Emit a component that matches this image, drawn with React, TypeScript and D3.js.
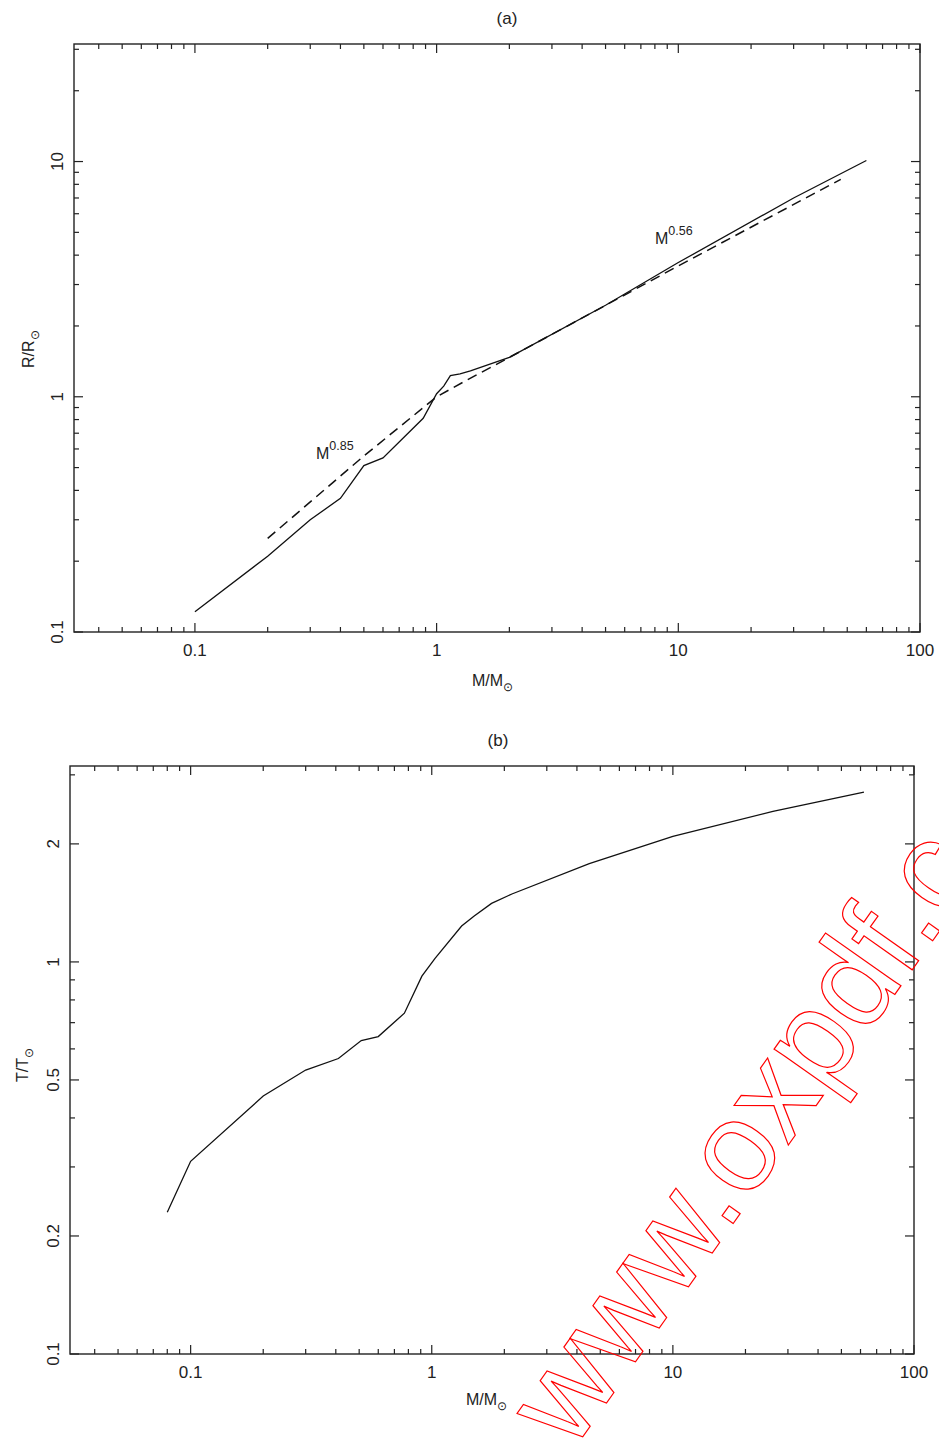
import React from 'react';
import { scaleLog, line, curveLinear } from 'd3';

const W = 939;
const H = 1441;

// panel (a): radius vs mass, model curve
const massR = [0.1, 0.2, 0.3, 0.4, 0.5, 0.6, 0.88, 1.0, 1.07, 1.14, 1.25, 1.38, 2, 5, 10, 30, 60];
const radiusR = [0.122, 0.21, 0.30, 0.37, 0.51, 0.55, 0.81, 1.03, 1.11, 1.23, 1.25, 1.29, 1.47, 2.45, 3.72, 7.0, 10.1];

// panel (a): power-law fits (dashed)
const fitM = [0.2, 0.5, 1.0, 1.3, 2, 10, 47];
const fitR = [0.25, 0.56, 1.0, 1.16, 1.47, 3.6, 8.4];

// panel (b): temperature vs mass
const massT = [0.08, 0.1, 0.2, 0.3, 0.41, 0.51, 0.6, 0.77, 0.91, 1.03, 1.33, 1.5, 1.77, 2.15, 4.5, 10, 26, 62];
const tempT = [0.23, 0.31, 0.455, 0.53, 0.567, 0.63, 0.645, 0.74, 0.92, 1.02, 1.235, 1.31, 1.41, 1.49, 1.78, 2.09, 2.42, 2.71];

const xLabels = [0.1, 1, 10, 100];
const yLabelsA = [0.1, 1, 10];
const yLabelsB = [0.1, 0.2, 0.5, 1, 2];

const font = 'Liberation Sans, Arial, Helvetica, sans-serif';
const SUN = '\u2299';

type Panel = {
  left: number; right: number; top: number; bottom: number;
  xDomain: [number, number]; yDomain: [number, number];
};

const pA: Panel = { left: 74, right: 920, top: 44, bottom: 632, xDomain: [0.0316, 100], yDomain: [0.1, 31.6] };
const pB: Panel = { left: 70, right: 914, top: 766, bottom: 1354, xDomain: [0.0316, 100], yDomain: [0.1, 3.16] };

const isMajor = (v: number, labels: number[]) => labels.some(l => Math.abs(l - v) / l < 1e-6);
const fmt = (v: number) => (v >= 1 ? String(Math.round(v)) : String(+v.toFixed(2)));

function Frame({ p, x, y, yLabels }: { p: Panel; x: any; y: any; yLabels: number[] }) {
  const xt = x.ticks().filter((t: number) => t >= p.xDomain[0] && t <= p.xDomain[1]);
  const yt = y.ticks().filter((t: number) => t >= p.yDomain[0] && t <= p.yDomain[1]);
  const major = 9;
  const minor = 5;
  return (
    <g stroke="#222" fill="none">
      <rect x={p.left} y={p.top} width={p.right - p.left} height={p.bottom - p.top} strokeWidth={1.4} />
      {xt.map((t: number, i: number) => {
        const len = isMajor(t, xLabels) ? major : minor;
        const xx = x(t);
        return (
          <g key={'x' + i}>
            <line x1={xx} x2={xx} y1={p.bottom} y2={p.bottom - len} strokeWidth={1.2} />
            <line x1={xx} x2={xx} y1={p.top} y2={p.top + len} strokeWidth={1.2} />
          </g>
        );
      })}
      {yt.map((t: number, i: number) => {
        const len = isMajor(t, yLabels) ? major : minor;
        const yy = y(t);
        return (
          <g key={'y' + i}>
            <line x1={p.left} x2={p.left + len} y1={yy} y2={yy} strokeWidth={1.2} />
            <line x1={p.right} x2={p.right - len} y1={yy} y2={yy} strokeWidth={1.2} />
          </g>
        );
      })}
      <g stroke="none" fill="#222" fontFamily={font} fontSize={17}>
        {xLabels.map(t => (
          <text key={'xl' + t} x={x(t)} y={p.bottom + 24} textAnchor="middle">{fmt(t)}</text>
        ))}
        {yLabels.map(t => (
          <text key={'yl' + t} transform={`translate(${p.left - 11},${y(t)}) rotate(-90)`} textAnchor="middle">{fmt(t)}</text>
        ))}
      </g>
    </g>
  );
}

export default function App() {
  const xA = scaleLog().domain(pA.xDomain).range([pA.left, pA.right]);
  const yA = scaleLog().domain(pA.yDomain).range([pA.bottom, pA.top]);
  const xB = scaleLog().domain(pB.xDomain).range([pB.left, pB.right]);
  const yB = scaleLog().domain(pB.yDomain).range([pB.bottom, pB.top]);

  const lineA = line<number>().x((d, i) => xA(massR[i])).y(d => yA(d)).curve(curveLinear);
  const lineFit = line<number>().x((d, i) => xA(fitM[i])).y(d => yA(d));
  const lineB = line<number>().x((d, i) => xB(massT[i])).y(d => yB(d));

  return (
    <svg width={W} height={H} style={{ position: 'absolute', left: 0, top: 0, background: '#fff' }}>
      <rect width={W} height={H} fill="#fff" />

      {/* panel (a) */}
      <text x={507} y={24} textAnchor="middle" fontFamily={font} fontSize={17} fill="#222">(a)</text>
      <Frame p={pA} x={xA} y={yA} yLabels={yLabelsA} />
      <path d={lineA(radiusR) || ''} fill="none" stroke="#111" strokeWidth={1.3} />
      <path d={lineFit(fitR) || ''} fill="none" stroke="#111" strokeWidth={1.5} strokeDasharray="10,6" />
      <text x={316} y={459} fontFamily={font} fontSize={16} fill="#222">
        M<tspan dy={-9} fontSize={12.5}>0.85</tspan>
      </text>
      <text x={655} y={244} fontFamily={font} fontSize={16} fill="#222">
        M<tspan dy={-9} fontSize={12.5}>0.56</tspan>
      </text>
      <text x={472} y={686} fontFamily={font} fontSize={16} fill="#222">
        M/M<tspan dy={5} fontSize={12}>{SUN}</tspan>
      </text>
      <text transform="translate(34,368) rotate(-90)" fontFamily={font} fontSize={16} fill="#222">
        R/R<tspan dy={5} fontSize={12}>{SUN}</tspan>
      </text>

      {/* panel (b) */}
      <text x={498} y={746} textAnchor="middle" fontFamily={font} fontSize={17} fill="#222">(b)</text>
      <Frame p={pB} x={xB} y={yB} yLabels={yLabelsB} />
      <path d={lineB(tempT) || ''} fill="none" stroke="#111" strokeWidth={1.3} />
      <text x={466} y={1405} fontFamily={font} fontSize={16} fill="#222">
        M/M<tspan dy={5} fontSize={12}>{SUN}</tspan>
      </text>
      <text transform="translate(28,1082) rotate(-90)" fontFamily={font} fontSize={16} fill="#222">
        T/T<tspan dy={5} fontSize={12}>{SUN}</tspan>
      </text>

      {/* watermark */}
      <text transform="translate(572,1452) rotate(-54.8)" fontFamily={font} fontSize={127}
        fill="none" stroke="#ff0000" strokeWidth={1.2}>www.oxpdf.com</text>
    </svg>
  );
}
